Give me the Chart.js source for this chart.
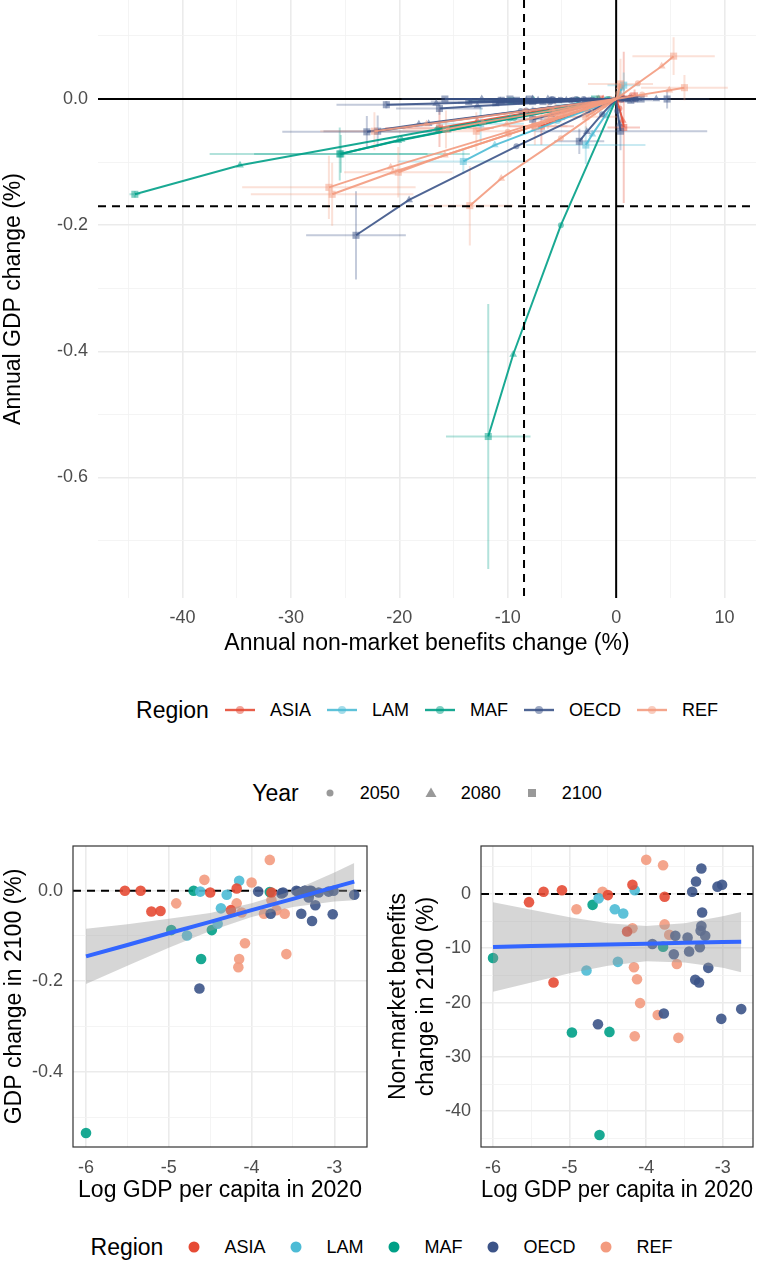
<!DOCTYPE html>
<html>
<head>
<meta charset="utf-8">
<script src="https://cdn.jsdelivr.net/npm/chart.js@4.4.1/dist/chart.umd.min.js"></script>
<style>
  html, body { margin: 0; padding: 0; background: #fff; }
  body { width: 763px; height: 1261px; position: relative; overflow: hidden;
         font-family: "Liberation Sans", Arial, Helvetica, sans-serif; }
  canvas { position: absolute; }
  .legend { position: absolute; display: flex; align-items: center; justify-content: center; white-space: nowrap; height: 30px; }
  .legend .ttl { font-size: 23px; color: #000; margin-right: 16px; }
  .legend .key { width: 30px; height: 30px; margin-right: 15px; }
  .legend .lab { font-size: 18px; color: #000; margin-right: 16px; }
  .legend .lab:last-child { margin-right: 0; }
</style>
</head>
<body>
<canvas id="pathChart" width="763" height="670" style="left:0;top:0"></canvas>
<canvas id="gdpChart" width="380" height="380" style="left:0;top:830px"></canvas>
<canvas id="nmChart" width="383" height="380" style="left:380px;top:830px"></canvas>
<div id="legRegion" class="legend" style="left:98px;width:658px;top:695px"></div>
<div id="legYear" class="legend" style="left:98px;width:658px;top:778px"></div>
<div id="legRegion2" class="legend" style="left:0;width:763px;top:1232px"></div>

<script>
// ---- data ----
const regions = ['ASIA', 'LAM', 'MAF', 'OECD', 'REF'];
const years = ['2050', '2080', '2100'];

// one entry per region/model run
const region = [
  'ASIA','ASIA','ASIA','ASIA','ASIA','ASIA','ASIA','ASIA',
  'LAM','LAM','LAM','LAM','LAM','LAM',
  'MAF','MAF','MAF','MAF','MAF','MAF',
  'OECD','OECD','OECD','OECD','OECD','OECD','OECD','OECD','OECD','OECD','OECD',
  'OECD','OECD','OECD','OECD','OECD','OECD','OECD','OECD','OECD','OECD','OECD',
  'REF','REF','REF','REF','REF','REF','REF','REF','REF','REF','REF','REF','REF','REF'
];
const logGdp2020 = [
  -5.53, -5.34, -5.21, -5.10, -4.50, -4.18, -4.25, -3.76,
  -4.62, -4.15, -4.30, -4.37, -4.41, -4.78,
  -6.00, -4.70, -3.78, -4.97, -4.48, -4.61,
  -4.63, -2.76, -3.02, -3.77, -3.31, -3.36, -3.19, -3.27, -3.40, -3.23, -3.92,
  -3.64, -3.46, -3.30, -3.07, -3.01, -3.35, -3.28, -3.28, -3.29, -3.62, -3.44,
  -3.78, -4.00, -4.57, -4.91, -3.76, -3.70, -3.85, -3.60, -3.58, -4.15, -4.16, -4.08, -4.18, -4.12
];
const gdp2100 = [
  0.000, 0.000, -0.046, -0.045, -0.004, 0.005, -0.043, -0.004,
  -0.002, 0.022, -0.009, -0.039, -0.073, -0.099,
  -0.535, 0.000, -0.003, -0.087, -0.087, -0.151,
  -0.216, -0.009, -0.052, -0.051, -0.015, 0.000, -0.004, -0.067, -0.051, -0.032, -0.002,
  -0.006, 0.000, 0.000, -0.002, 0.000, 0.000, 0.000, -0.002, -0.004, -0.004, -0.002,
  0.068, 0.018, 0.024, -0.028, -0.021, -0.043, -0.051, -0.051, -0.140, -0.151, -0.169, -0.116, -0.028, -0.048
];
const nm2100 = [
  -1.5, 0.4, -16.3, 0.7, -0.2, 1.7, -6.9, -0.5,
  -0.8, 0.7, -3.6, -12.5, -2.8, -14.1,
  -11.8, -2.0, -9.7, -25.5, -25.4, -44.4,
  -24.0, -21.2, -23.0, -22.0, -16.3, -15.8, -13.6, -3.4, 0.4, -7.7, -9.2,
  -11.1, -8.0, -9.8, 1.35, 1.7, 2.3, 4.7, -5.9, -6.75, -7.7, -10.6,
  5.3, 6.3, 0.4, -2.8, -5.6, -7.5, -22.3, -12.9, -26.5, -26.2, -13.5, -20.1, -6.3, -15.7
];
const gdp2080 = [
  0, 0, -0.035, -0.034, -0.003, 0.004, -0.033, -0.003,
  -0.002, 0.017, -0.007, -0.030, -0.056, -0.073,
  -0.405, 0, -0.002, -0.066, -0.064, -0.105,
  -0.160, -0.007, -0.040, -0.039, -0.011, 0, -0.003, -0.052, -0.040, -0.025, -0.002,
  -0.005, 0, 0, -0.002, 0, 0, 0, -0.002, -0.003, -0.003, -0.002,
  0.052, 0.014, 0.019, -0.022, -0.016, -0.033, -0.040, -0.040, -0.108, -0.116, -0.126, -0.089, -0.022, -0.037
];
const nm2080 = [
  -1.2, 0.3, -12.8, 0.6, -0.2, 1.3, -5.4, -0.4,
  -0.6, 0.5, -2.8, -9.8, -2.2, -11.2,
  -9.5, -1.6, -7.6, -20.1, -19.8, -34.7,
  -19.1, -16.6, -18.2, -17.3, -12.8, -12.4, -10.7, -2.7, 0.3, -6.0, -7.2,
  -8.7, -6.3, -7.7, 1.1, 1.3, 1.8, 3.7, -4.6, -5.3, -6.0, -8.3,
  4.2, 4.9, 0.3, -2.2, -4.4, -5.9, -17.5, -10.1, -20.8, -20.6, -10.6, -15.8, -4.9, -12.3
];
const gdp2050 = [
  0, 0, -0.016, -0.015, -0.001, 0.002, -0.015, -0.001,
  -0.001, 0.008, -0.003, -0.014, -0.026, -0.035,
  -0.200, 0, -0.001, -0.031, -0.030, -0.048,
  -0.075, -0.003, -0.019, -0.018, -0.005, 0, -0.001, -0.024, -0.019, -0.012, -0.001,
  -0.002, 0, 0, -0.001, 0, 0, 0, -0.001, -0.001, -0.001, -0.001,
  0.025, 0.007, 0.009, -0.010, -0.008, -0.016, -0.019, -0.019, -0.052, -0.056, -0.062, -0.043, -0.010, -0.018
];
const nm2050 = [
  -0.6, 0.2, -6.2, 0.3, -0.1, 0.6, -2.6, -0.2,
  -0.3, 0.3, -1.3, -4.7, -1.0, -5.4,
  -5.1, -0.8, -3.6, -9.8, -9.4, -16.5,
  -9.2, -8.0, -8.8, -8.3, -6.1, -5.9, -5.1, -1.3, 0.1, -2.9, -3.5,
  -4.2, -3.0, -3.7, 0.5, 0.6, 0.9, 1.8, -2.2, -2.5, -2.9, -4.0,
  2.0, 2.4, 0.2, -1.1, -2.1, -2.8, -8.4, -4.9, -10.0, -9.9, -5.1, -7.6, -2.4, -5.9
];
// half-width of the 2100 uncertainty bars
const nmCi2100 = [
  1.0, 0.8, 5.0, 1.5, 0.5, 1.2, 3.0, 0.8,
  1.0, 1.5, 2.0, 4.0, 5.5, 6.0,
  3.9, 1.5, 4.0, 12.0, 8.0, 0.5,
  4.6, 4.6, 7.8, 5.0, 4.0, 4.0, 3.5, 2.3, 8.0, 3.0, 3.0,
  3.5, 2.5, 3.0, 2.0, 2.0, 2.5, 3.9, 2.0, 2.0, 2.5, 3.0,
  3.8, 4.0, 3.0, 3.0, 3.0, 3.0, 5.0, 4.0, 8.0, 7.5, 4.0, 5.0, 3.0, 4.0
];
const gdpCi2100 = [
  0.003, 0.003, 0.03, 0.12, 0.003, 0.01, 0.03, 0.004,
  0.004, 0.02, 0.01, 0.03, 0.03, 0.02,
  0.21, 0.003, 0.004, 0.042, 0.03, 0.005,
  0.07, 0.006, 0.025, 0.025, 0.01, 0.002, 0.004, 0.02, 0.03, 0.02, 0.002,
  0.004, 0.002, 0.002, 0.003, 0.003, 0.003, 0.015, 0.003, 0.003, 0.003, 0.003,
  0.03, 0.02, 0.04, 0.02, 0.02, 0.03, 0.03, 0.03, 0.05, 0.05, 0.063, 0.04, 0.02, 0.03
];
// 2020 starting point of every path
const base2020 = { nm: 0, gdp: 0 };

// linear fits with 95% band
const fitX = [-6.0, -5.5, -5.0, -4.5, -4.0, -3.5, -3.0, -2.76];
const gdpFit = [-0.145, -0.120, -0.094, -0.069, -0.043, -0.018, 0.008, 0.020];
const gdpFitLo = [-0.206, -0.166, -0.126, -0.089, -0.058, -0.036, -0.024, -0.021];
const gdpFitHi = [-0.084, -0.074, -0.062, -0.049, -0.028, 0.000, 0.040, 0.061];
const nmFit = [-9.75, -9.6, -9.45, -9.3, -9.15, -9.0, -8.85, -8.8];
const nmFitLo = [-18.0, -16.3, -14.6, -13.2, -12.4, -12.6, -13.6, -14.4];
const nmFitHi = [-1.5, -2.9, -4.3, -5.4, -5.9, -5.4, -4.1, -3.3];

// reference lines of the top panel
const meanNm2100 = -8.5;
const meanGdp2100 = -0.17;

// ticks
const topXTicks = [-45, -40, -35, -30, -25, -20, -15, -10, -5, 0, 5, 10];
const topXLabels = ['', '-40', '', '-30', '', '-20', '', '-10', '', '0', '', '10'];
const topYTicks = [-0.7, -0.6, -0.5, -0.4, -0.3, -0.2, -0.1, 0, 0.1];
const topYLabels = ['', '-0.6', '', '-0.4', '', '-0.2', '', '0.0', ''];
const lowXTicks = [-6, -5.5, -5, -4.5, -4, -3.5, -3];
const lowXLabels = ['-6', '', '-5', '', '-4', '', '-3'];
const gdpYTicks = [-0.5, -0.4, -0.3, -0.2, -0.1, 0];
const gdpYLabels = ['', '-0.4', '', '-0.2', '', '0.0'];
const nmYTicks = [-45, -40, -35, -30, -25, -20, -15, -10, -5, 0, 5];
const nmYLabels = ['', '-40', '', '-30', '', '-20', '', '-10', '', '0', ''];

// ---- style ----
const FONT = '"Liberation Sans", Arial, Helvetica, sans-serif';
const regionRgb = { ASIA: '230,75,53', LAM: '77,187,213', MAF: '0,160,135', OECD: '60,84,136', REF: '243,155,127' };
const rgba = (r, a) => 'rgba(' + regionRgb[r] + ',' + a + ')';
const tickFont = { family: FONT, size: 18 };
const titleFont = { family: FONT, size: 23 };

function gridStyle(labels) {
  return {
    drawTicks: false,
    color: c => labels[c.index] ? '#EBEBEB' : '#F3F3F3',
    lineWidth: c => labels[c.index] ? 1.6 : 0.9
  };
}
// fixed axis boxes, no automatic label padding
function fixBox(w, h) {
  return function (s) {
    if (w !== null) s.width = w;
    if (h !== null) s.height = h;
    s.paddingTop = 0; s.paddingBottom = 0; s.paddingLeft = 0; s.paddingRight = 0;
  };
}

// ---- top panel: paths 2020 -> 2050 -> 2080 -> 2100 ----
const pathDatasets = region.map(function (r, i) {
  return {
    data: [
      { x: base2020.nm, y: base2020.gdp },
      { x: nm2050[i], y: gdp2050[i] },
      { x: nm2080[i], y: gdp2080[i] },
      { x: nm2100[i], y: gdp2100[i] }
    ],
    borderColor: rgba(r, 0.9),
    borderWidth: 2,
    pointStyle: ['circle', 'circle', 'triangle', 'rect'],
    pointRadius: [0, 3, 4.5, 5],
    pointBackgroundColor: rgba(r, 0.5),
    pointBorderWidth: 0,
    fill: false,
    tension: 0
  };
}).reverse();

const pathRefLines = {
  id: 'pathRefLines',
  beforeDatasetsDraw(chart) {
    const { ctx, chartArea: a, scales: { x, y } } = chart;
    ctx.save();
    ctx.strokeStyle = '#000';
    ctx.lineWidth = 2;
    ctx.beginPath();
    ctx.moveTo(a.left, y.getPixelForValue(0)); ctx.lineTo(a.right, y.getPixelForValue(0));
    ctx.moveTo(x.getPixelForValue(0), a.top); ctx.lineTo(x.getPixelForValue(0), a.bottom);
    ctx.stroke();
    // uncertainty bars of the 2100 points
    ctx.beginPath();
    ctx.rect(a.left, a.top, a.right - a.left, a.bottom - a.top);
    ctx.clip();
    ctx.lineWidth = 2;
    nm2100.forEach(function (v, i) {
      const px = x.getPixelForValue(v), py = y.getPixelForValue(gdp2100[i]);
      ctx.strokeStyle = rgba(region[i], 0.3);
      ctx.beginPath();
      ctx.moveTo(x.getPixelForValue(v - nmCi2100[i]), py);
      ctx.lineTo(x.getPixelForValue(v + nmCi2100[i]), py);
      ctx.moveTo(px, y.getPixelForValue(gdp2100[i] - gdpCi2100[i]));
      ctx.lineTo(px, y.getPixelForValue(gdp2100[i] + gdpCi2100[i]));
      ctx.stroke();
    });
    ctx.restore();
  },
  afterDatasetsDraw(chart) {
    const { ctx, chartArea: a, scales: { x, y } } = chart;
    ctx.save();
    ctx.strokeStyle = '#000';
    ctx.lineWidth = 2;
    ctx.setLineDash([8, 6]);
    ctx.beginPath();
    ctx.moveTo(a.left, y.getPixelForValue(meanGdp2100)); ctx.lineTo(a.right, y.getPixelForValue(meanGdp2100));
    ctx.moveTo(x.getPixelForValue(meanNm2100), a.top); ctx.lineTo(x.getPixelForValue(meanNm2100), a.bottom);
    ctx.stroke();
    ctx.restore();
  }
};

new Chart(document.getElementById('pathChart'), {
  type: 'line',
  data: { datasets: pathDatasets },
  plugins: [pathRefLines],
  options: {
    responsive: false,
    animation: false,
    devicePixelRatio: 1,
    layout: { autoPadding: false, padding: { left: 0, right: 7, top: 0, bottom: 0 } },
    plugins: { legend: { display: false }, tooltip: { enabled: false } },
    scales: {
      x: {
        type: 'linear', min: -47.8, max: 12.9,
        afterBuildTicks: s => { s.ticks = topXTicks.map(v => ({ value: v })); },
        afterFit: fixBox(null, 72),
        ticks: { callback: (v, i) => topXLabels[i], color: '#4D4D4D', font: tickFont, padding: 9, autoSkip: false, maxRotation: 0 },
        grid: gridStyle(topXLabels),
        border: { display: false },
        title: { display: true, text: 'Annual non-market benefits change (%)', color: '#000', font: titleFont, padding: { top: 0, bottom: 13 } }
      },
      y: {
        type: 'linear', min: -0.791, max: 0.157,
        afterBuildTicks: s => { s.ticks = topYTicks.map(v => ({ value: v })); },
        afterFit: fixBox(98, null),
        ticks: { callback: (v, i) => topYLabels[i], color: '#4D4D4D', font: tickFont, padding: 10, autoSkip: false },
        grid: gridStyle(topYLabels),
        border: { display: false },
        title: { display: true, text: 'Annual GDP change (%)', color: '#000', font: titleFont, padding: { top: 0, bottom: 0 } }
      }
    }
  }
});

// ---- lower panels: 2100 change against log GDP per capita ----
const panelFrame = {
  id: 'panelFrame',
  beforeDatasetsDraw(chart) {
    const { ctx, chartArea: a, scales: { y } } = chart;
    ctx.save();
    ctx.strokeStyle = '#000';
    ctx.lineWidth = 2;
    ctx.setLineDash([8, 6]);
    ctx.beginPath();
    ctx.moveTo(a.left, y.getPixelForValue(0)); ctx.lineTo(a.right, y.getPixelForValue(0));
    ctx.stroke();
    ctx.restore();
  },
  afterDraw(chart) {
    const { ctx, chartArea: a } = chart;
    ctx.save();
    ctx.strokeStyle = '#333';
    ctx.lineWidth = 1.2;
    ctx.strokeRect(a.left, a.top, a.right - a.left, a.bottom - a.top);
    ctx.restore();
  }
};

function lowerChart(id, values, fit, fitLo, fitHi, yMin, yMax, yTicks, yLabels, yTitle, yWidth, rightPad, titlePad) {
  const sets = regions.map(function (r) {
    const pts = [];
    region.forEach(function (rr, i) { if (rr === r) pts.push({ x: logGdp2020[i], y: values[i] }); });
    return { type: 'scatter', data: pts, order: 2, pointRadius: 5.3, pointBorderWidth: 0, pointBackgroundColor: rgba(r, 0.9) };
  });
  sets.push({ type: 'line', data: fitX.map((v, i) => ({ x: v, y: fitLo[i] })), order: 1, borderWidth: 0, pointRadius: 0, fill: false });
  sets.push({ type: 'line', data: fitX.map((v, i) => ({ x: v, y: fitHi[i] })), order: 1, borderWidth: 0, pointRadius: 0, fill: '-1', backgroundColor: 'rgba(153,153,153,0.4)' });
  sets.push({ type: 'line', data: fitX.map((v, i) => ({ x: v, y: fit[i] })), order: 0, borderColor: '#3366FF', borderWidth: 4, pointRadius: 0, fill: false });

  return new Chart(document.getElementById(id), {
    type: 'scatter',
    data: { datasets: sets },
    plugins: [panelFrame],
    options: {
      responsive: false,
      animation: false,
      devicePixelRatio: 1,
      layout: { autoPadding: false, padding: { left: 0, right: rightPad, top: 16, bottom: 0 } },
      plugins: { legend: { display: false }, tooltip: { enabled: false } },
      scales: {
        x: {
          type: 'linear', min: -6.157, max: -2.606,
          afterBuildTicks: s => { s.ticks = lowXTicks.map(v => ({ value: v })); },
          afterFit: fixBox(null, 63),
          ticks: { callback: (v, i) => lowXLabels[i], color: '#4D4D4D', font: tickFont, padding: 10, autoSkip: false, maxRotation: 0 },
          grid: gridStyle(lowXLabels),
          border: { display: false },
          title: { display: true, text: 'Log GDP per capita in 2020', color: '#000', font: titleFont, padding: { top: 0, bottom: 6 } }
        },
        y: {
          type: 'linear', min: yMin, max: yMax,
          afterBuildTicks: s => { s.ticks = yTicks.map(v => ({ value: v })); },
          afterFit: fixBox(yWidth, null),
          ticks: { callback: (v, i) => yLabels[i], color: '#4D4D4D', font: tickFont, padding: 10, autoSkip: false },
          grid: gridStyle(yLabels),
          border: { display: false },
          title: { display: true, text: yTitle, color: '#000', font: titleFont, padding: { top: titlePad, bottom: 0 } }
        }
      }
    }
  });
}

lowerChart('gdpChart', gdp2100, gdpFit, gdpFitLo, gdpFitHi, -0.566, 0.0987,
  gdpYTicks, gdpYLabels, 'GDP change in 2100 (%)', 73, 13, 1);
lowerChart('nmChart', nm2100, nmFit, nmFitLo, nmFitHi, -46.6, 8.84,
  nmYTicks, nmYLabels, ['Non-market benefits', 'change in 2100 (%)'], 101, 10, 5);

// ---- legends ----
function svgKey(inner) {
  return '<svg class="key" viewBox="0 0 30 30" width="30" height="30">' + inner + '</svg>';
}
let html = '<span class="ttl">Region</span>';
regions.forEach(function (r) {
  html += svgKey('<line x1="0" y1="15" x2="30" y2="15" stroke="' + rgba(r, 0.9) + '" stroke-width="2.4"/>' +
                 '<circle cx="15" cy="15" r="4" fill="' + rgba(r, 0.5) + '"/>') +
          '<span class="lab">' + r + '</span>';
});
document.getElementById('legRegion').innerHTML = html;

const yearShapes = [
  '<circle cx="15" cy="15" r="3.5" fill="rgba(0,0,0,0.4)"/>',
  '<polygon points="15,9.5 20.5,19 9.5,19" fill="rgba(0,0,0,0.4)"/>',
  '<rect x="11" y="11" width="8" height="8" fill="rgba(0,0,0,0.4)"/>'
];
html = '<span class="ttl">Year</span>';
years.forEach(function (yr, i) {
  html += svgKey(yearShapes[i]) + '<span class="lab">' + yr + '</span>';
});
document.getElementById('legYear').innerHTML = html;

html = '<span class="ttl">Region</span>';
regions.forEach(function (r) {
  html += svgKey('<circle cx="15" cy="15" r="5.5" fill="' + rgba(r, 1) + '"/>') +
          '<span class="lab">' + r + '</span>';
});
document.getElementById('legRegion2').innerHTML = html;
</script>
</body>
</html>
